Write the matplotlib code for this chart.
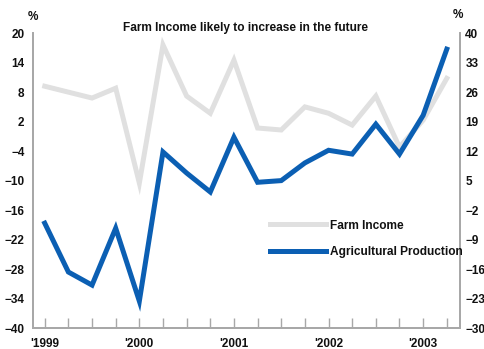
import matplotlib.pyplot as plt
import numpy as np

plt.rcParams['font.family'] = ['Liberation Sans', 'DejaVu Sans']

# quarterly data, 1999Q1 .. 2003Q2
quarters = list(range(18))
year_labels = ["'1999", "'2000", "'2001", "'2002", "'2003"]
farm_income = [9.2, 8.0, 6.8, 8.8, -10.5, 17.6, 7.2, 3.7, 14.5,
               0.7, 0.3, 5.0, 3.7, 1.3, 7.2, -3.2, 2.3, 10.8]
agri_production = [-5.1, -16.7, -19.8, -6.3, -23.6, 11.8, 6.8, 2.3, 15.3,
                   4.6, 5.0, 9.2, 12.2, 11.3, 18.4, 11.3, 20.5, 36.2]

left_ticks = [20, 14, 8, 2, -4, -10, -16, -22, -28, -34, -40]
right_ticks = [40, 33, 26, 19, 12, 5, -2, -9, -16, -23, -30]

grey = '#e0e0e0'
blue = '#0b5fb3'
spine_col = '#a8a8a8'
txt = '#111111'

fig = plt.figure(figsize=(4.84, 3.49), dpi=100)
ax = fig.add_axes([0.068, 0.060, 0.882, 0.845])
ax2 = ax.twinx()

l1, = ax.plot(quarters, farm_income, color=grey, lw=3.6, solid_joinstyle='miter',
              label='Farm Income')
l2, = ax2.plot(quarters, agri_production, color=blue, lw=3.6, solid_joinstyle='miter',
               label='Agricultural Production')

ax.set_xlim(-0.5, 17.55)
ax.set_ylim(-40, 20)
ax2.set_ylim(-30, 40)
ax.set_yticks(left_ticks)
ax2.set_yticks(right_ticks)
ax.set_xticks([0, 4, 8, 12, 16])
ax.set_xticklabels(year_labels)
ax.set_xticks(quarters, minor=True)

for a in (ax, ax2):
    a.spines['top'].set_visible(False)
    for s in ('left', 'right', 'bottom'):
        a.spines[s].set_color(spine_col)
        a.spines[s].set_linewidth(1.3)
    for lab in a.get_xticklabels() + a.get_yticklabels():
        lab.set_fontweight('bold')

ax.tick_params(axis='y', length=0, pad=6, labelsize=8.5, labelcolor=txt)
ax2.tick_params(axis='y', length=0, pad=4, labelsize=8.5, labelcolor=txt)
ax.tick_params(axis='x', which='both', direction='in', length=7, width=1,
               color=spine_col, pad=7, labelsize=8.5, labelcolor=txt)

fig.text(33 / 484, 1 - 17 / 349, '%', ha='center', va='center', fontsize=8.5,
         fontweight='bold', color=txt)
fig.text(458 / 484, 1 - 15 / 349, '%', ha='center', va='center', fontsize=8.5,
         fontweight='bold', color=txt)
fig.text(245 / 484, 1 - 28 / 349, 'Farm Income likely to increase in the future',
         ha='center', va='center', fontsize=8.6, fontweight='bold', color=txt)

leg = ax2.legend(handles=[l1, l2], loc='center left',
                 bbox_to_anchor=(266 / 484, 1 - 239 / 349),
                 bbox_transform=fig.transFigure,
                 frameon=False, fontsize=8.6, handlelength=4.7, handletextpad=0.35,
                 labelspacing=1.25, borderaxespad=0, borderpad=0.3)
for t in leg.get_texts():
    t.set_fontweight('bold')
    t.set_color(txt)

fig.savefig('out.png', dpi=100)
